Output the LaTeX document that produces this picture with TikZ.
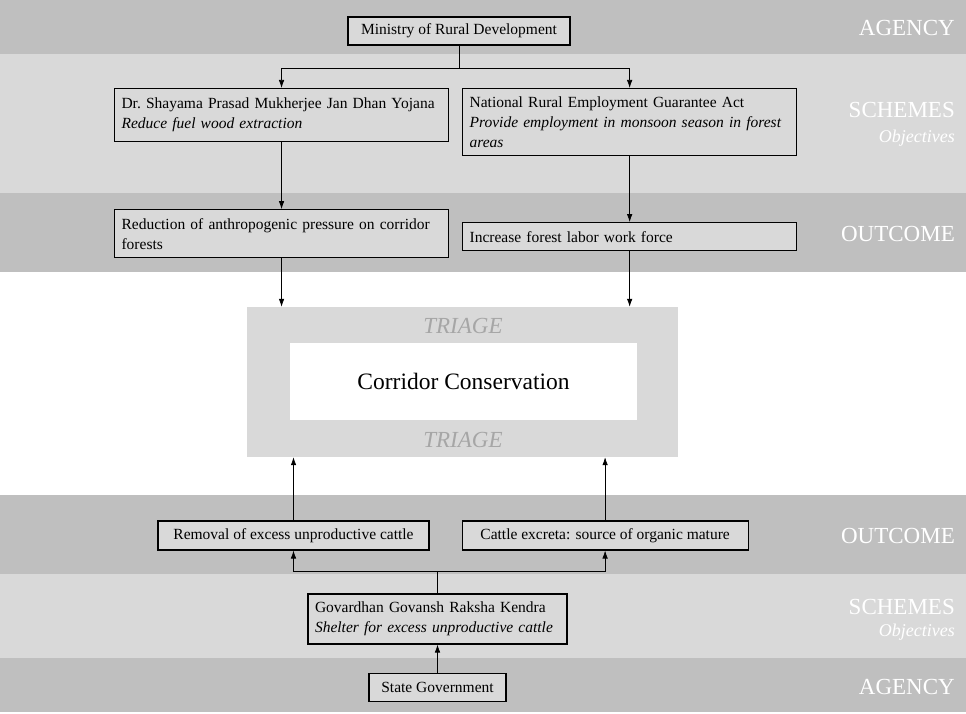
\documentclass[tikz,border=0pt]{standalone}
\usepackage{fontspec}
\setmainfont{Liberation Serif}
\usepackage{tikz}
\usetikzlibrary{positioning}
\usetikzlibrary{backgrounds}
\usetikzlibrary{arrows.meta}

\definecolor{banddark}{HTML}{BFBFBF}
\definecolor{bandlight}{HTML}{D9D9D9}
\definecolor{triagegray}{HTML}{A6A6A6}

\tikzset{
  box/.style={draw=black, line width=1.1pt, fill=bandlight, inner xsep=7pt, inner ysep=6pt, font=\fontsize{15.5}{20}\selectfont},
  textbox/.style={box, text width=320pt, align=left},
  arr/.style={-{Latex[length=8pt,width=5.5pt]}, line width=0.7pt},
  band label/.style={anchor=east, inner sep=0pt, text=white, font=\fontsize{23}{26}\selectfont},
  sub label/.style={anchor=east, inner sep=0pt, text=white, font=\fontsize{18}{20}\selectfont\itshape},
  triage label/.style={inner sep=0pt, text=triagegray, font=\fontsize{23}{26}\selectfont\itshape},
}

\begin{document}
\begin{tikzpicture}[x=1pt, y=-1pt]
 \useasboundingbox (0,0) rectangle (966,714);

 \node (ministry) [box, minimum width=222pt, minimum height=28pt] at (459,31) { Ministry of Rural Development };
 \node (jandhan) [textbox, minimum height=53pt, anchor=north west] at (114,88) { Dr.\ Shayama Prasad Mukherjee Jan Dhan Yojana\\ \textit{Reduce fuel wood extraction} };
 \node (nrega) [textbox, minimum height=67pt, right=13pt of jandhan.north east, anchor=north west] { National Rural Employment Guarantee Act\\ \textit{Provide employment in monsoon season in forest}\\ \textit{areas} };

 \node (pressure) [textbox, minimum height=48pt, below=67pt of jandhan.south west, anchor=north west] { Reduction of anthropogenic pressure on corridor\\ forests };
 \node (labor) [textbox, minimum height=28pt, below=66pt of nrega.south west, anchor=north west] { Increase forest labor work force };

 \node (triage) [fill=bandlight, minimum width=431pt, minimum height=150pt] at (462.5,382) {};
 \node (corridor) [fill=white, minimum width=347pt, minimum height=77pt, font=\fontsize{23.5}{26}\selectfont] at (463.5,381.5) { Corridor Conservation };
 \node (triagetop) [triage label] at (463,326) { TRIAGE };
 \node (triagebot) [triage label] at (463,440) { TRIAGE };

 \node (removal) [box, minimum width=271pt, minimum height=29pt] at (293.5,535.5) { Removal of excess unproductive cattle };
 \node (excreta) [box, minimum width=286pt, minimum height=29pt, right=32pt of removal] { Cattle excreta: source of organic mature };
 \node (govardhan) [box, text width=245pt, align=left, minimum height=50pt] at (437.5,619) { Govardhan Govansh Raksha Kendra\\ \textit{Shelter for excess unproductive cattle} };
 \node (stategov) [box, minimum width=137pt, minimum height=28pt, below=28pt of govardhan] { State Government };

 \draw [arr] (ministry.south) -- ++(0,23) -| (jandhan.north);
 \draw [arr] (ministry.south) -- ++(0,23) -| (nrega.north);
 \draw [arr] (jandhan.south) -- (pressure.north);
 \draw [arr] (nrega.south) -- (labor.north);
 \draw [arr] (pressure.south) -- (pressure.south |- triage.north);
 \draw [arr] (labor.south) -- (labor.south |- triage.north);

 \draw [arr] (removal.north) -- (removal.north |- triage.south);
 \draw [arr] (excreta.north) -- (excreta.north |- triage.south);
 \draw [arr] (govardhan.north) -- ++(0,-22) -| (removal.south);
 \draw [arr] (govardhan.north) -- ++(0,-22) -| (excreta.south);
 \draw [arr] (stategov.north) -- (govardhan.south);

 \begin{scope}[on background layer]
   \fill [banddark] (0,0) rectangle (966,54);
   \fill [bandlight] (0,54) rectangle (966,193);
   \fill [banddark] (0,193) rectangle (966,272);
   \fill [banddark] (0,495) rectangle (966,574);
   \fill [bandlight] (0,574) rectangle (966,658);
   \fill [banddark] (0,658) rectangle (966,712);
 \end{scope}

 \node (agencytop) [band label] at (955,28) { AGENCY };
 \node (schemestop) [band label] at (955,110) { SCHEMES };
 \node (objtop) [sub label] at (955,138) { Objectives };
 \node (outcometop) [band label] at (955,234) { OUTCOME };
 \node (outcomebot) [band label] at (955,536) { OUTCOME };
 \node (schemesbot) [band label] at (955,607) { SCHEMES };
 \node (objbot) [sub label] at (955,632) { Objectives };
 \node (agencybot) [band label] at (955,687) { AGENCY };
\end{tikzpicture}
\end{document}
